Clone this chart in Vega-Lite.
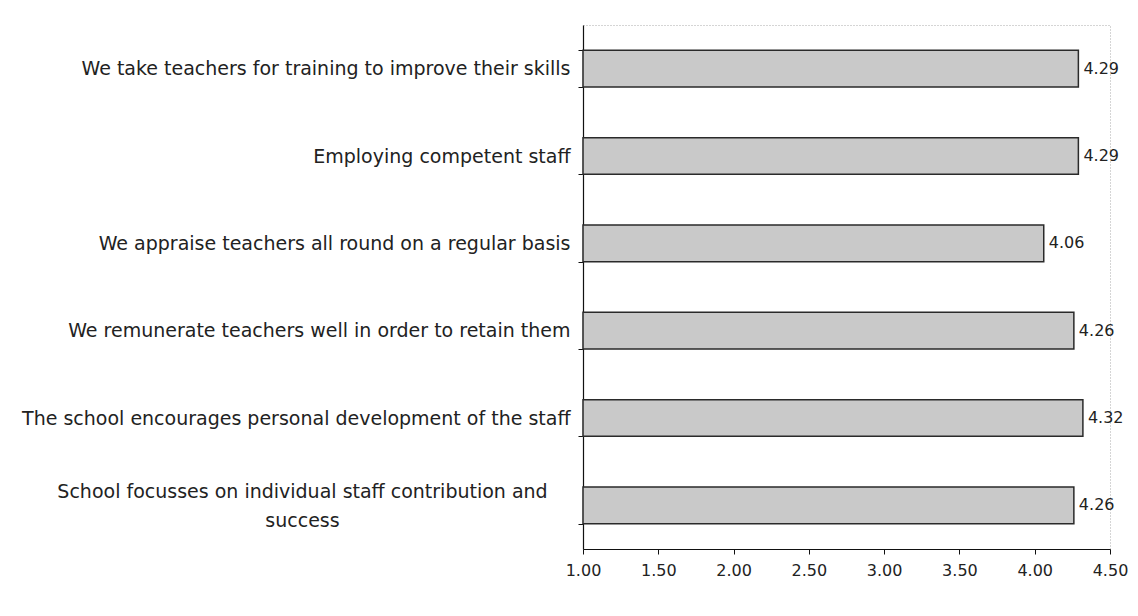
{
  "$schema": "https://vega.github.io/schema/vega-lite/v6.json",
  "width": 527,
  "height": 524,
  "autosize": "none",
  "padding": {"left": 583, "top": 25, "right": 28, "bottom": 67},
  "background": "white",
  "config": {
    "view": {"stroke": "#aaaaaa", "strokeDash": [1, 2], "strokeWidth": 1},
    "font": "DejaVu Sans",
    "axis": {"labelFont": "DejaVu Sans", "labelColor": "#222", "domainColor": "#111", "tickColor": "#111"}
  },
  "data": {
    "values": [
      {"item": "We take teachers for training to improve their skills", "score": 4.29},
      {"item": "Employing  competent staff", "score": 4.29},
      {"item": "We appraise teachers all round on a regular basis", "score": 4.06},
      {"item": "We remunerate teachers well in order to retain them", "score": 4.26},
      {"item": "The school encourages personal development of the staff", "score": 4.32},
      {"item": "School focusses on individual staff contribution and success", "score": 4.26}
    ]
  },
  "encoding": {
    "y": {
      "field": "item",
      "type": "nominal",
      "sort": null,
      "title": null,
      "scale": {"paddingInner": 0.58, "paddingOuter": 0.29},
      "axis": {
        "labelFontSize": 19,
        "labelLimit": 700,
        "labelPadding": {"condition": {"test": "datum.value == 'School focusses on individual staff contribution and success'", "value": 276}, "value": 8},
        "labelAlign": {"condition": {"test": "datum.value == 'School focusses on individual staff contribution and success'", "value": "center"}, "value": "right"},
        "labelOffset": {"condition": {"test": "datum.value == 'School focusses on individual staff contribution and success'", "value": -14}, "value": 0},
        "labelLineHeight": 29,
        "tickBand": "extent",
        "tickSize": 5,
        "ticks": true,
        "domainWidth": 1.2,
        "labelExpr": "datum.value == 'School focusses on individual staff contribution and success' ? ['School focusses on individual staff contribution and', 'success'] : datum.value"
      }
    }
  },
  "layer": [
    {
      "mark": {"type": "bar", "fill": "#c9c9c9", "stroke": "#2a2a2a", "strokeWidth": 1.5},
      "encoding": {
        "x": {
          "field": "score",
          "type": "quantitative",
          "title": null,
          "scale": {"domain": [1, 4.5], "zero": false, "nice": false},
          "axis": {
            "values": [1, 1.5, 2, 2.5, 3, 3.5, 4, 4.5],
            "format": ".2f",
            "grid": false,
            "labelFontSize": 16,
            "labelPadding": 8,
            "tickSize": 5,
            "domainWidth": 1.2,
            "labelFlush": false
          }
        },
        "x2": {"datum": 1}
      }
    },
    {
      "mark": {"type": "text", "align": "left", "dx": 5, "fontSize": 16, "font": "DejaVu Sans", "color": "#222"},
      "encoding": {
        "x": {"field": "score", "type": "quantitative"},
        "text": {"field": "score", "type": "quantitative", "format": ".2f"}
      }
    }
  ]
}
